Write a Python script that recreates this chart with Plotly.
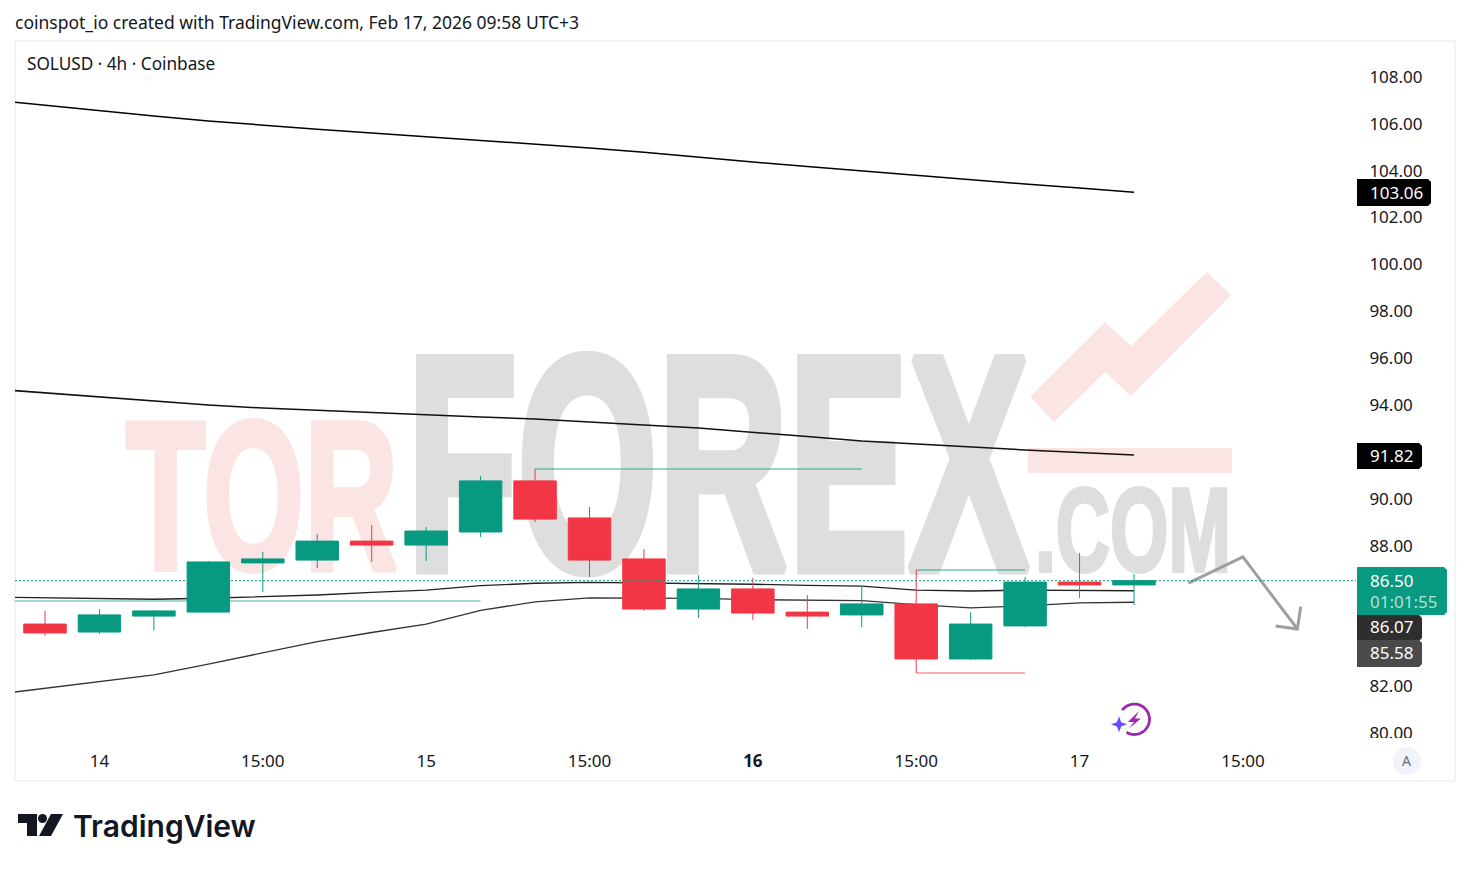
import math
import pandas as pd
import plotly.graph_objects as go

# ---------- data ----------
OPEN = [84.65, 84.31, 84.99, 85.16, 87.26, 87.38, 88.19, 88.02, 88.58, 90.76, 89.18,
        87.43, 85.29, 86.15, 85.16, 85.04, 85.51, 83.16, 84.57, 86.44, 86.32]
HIGH = [85.21, 85.29, 85.25, 87.34, 87.73, 88.49, 88.88, 88.79, 90.97, 91.27, 89.65,
        87.85, 86.74, 86.62, 85.89, 86.27, 86.96, 85.16, 86.66, 87.68, 86.79]
LOW = [84.15, 84.23, 84.37, 85.16, 86.02, 87.04, 87.30, 87.34, 88.37, 89.01, 86.66,
       85.21, 84.91, 84.82, 84.44, 84.52, 82.56, 83.12, 84.52, 85.76, 85.46]
CLOSE = [84.27, 85.04, 85.21, 87.30, 87.43, 88.19, 88.02, 88.62, 90.76, 89.13, 87.38,
         85.29, 86.15, 85.12, 84.99, 85.51, 83.16, 84.65, 86.44, 86.32, 86.50]

BAND_UPPER = [107.03, 106.79, 106.56, 106.33, 106.12, 105.93, 105.77, 105.61, 105.45, 105.31, 105.14,
              104.97, 104.79, 104.57, 104.37, 104.18, 103.99, 103.79, 103.60, 103.43, 103.26, 103.08]
BAND_MID = [94.69, 94.51, 94.33, 94.15, 94.00, 93.87, 93.77, 93.66, 93.56, 93.49, 93.40,
            93.29, 93.15, 93.02, 92.85, 92.65, 92.46, 92.33, 92.19, 92.08, 91.97, 91.86]
LINE_A = [85.80, 85.76, 85.73, 85.71, 85.75, 85.82, 85.89, 86.00, 86.10, 86.29, 86.39,
          86.43, 86.41, 86.39, 86.35, 86.30, 86.27, 86.10, 86.06, 86.10, 86.09, 86.07]
LINE_B = [81.62, 81.91, 82.19, 82.48, 82.94, 83.41, 83.90, 84.29, 84.65, 85.23, 85.60,
          85.77, 85.76, 85.75, 85.69, 85.66, 85.65, 85.48, 85.34, 85.43, 85.55, 85.58]

LEVELS = [
    (85.63, -1, 8, "rgba(8,153,129,0.38)"),
    (91.27, 9, 15, "rgba(8,153,129,0.42)"),
    (86.96, 16, 18, "rgba(8,153,129,0.42)"),
    (82.56, 16, 18, "rgba(242,54,69,0.40)"),
]

ARROW_TIMES = ["2026-02-17 11:00", "2026-02-17 15:00", "2026-02-17 19:00"]
ARROW_PRICES = [86.40, 87.52, 84.44]
ARROW_HEAD_TIMES = ["2026-02-17 17:24", "2026-02-17 19:00", "2026-02-17 19:15"]
ARROW_HEAD_PRICES = [84.57, 84.44, 85.39]

PRICE_TICKS = [80, 82, 88, 90, 92, 94, 96, 98, 100, 102, 104, 106, 108]
TIME_TICKS = ["2026-02-14 03:00", "2026-02-14 15:00", "2026-02-15 03:00", "2026-02-15 15:00",
              "2026-02-16 03:00", "2026-02-16 15:00", "2026-02-17 03:00", "2026-02-17 15:00"]
TIME_LABELS = ["14", "15:00", "15", "15:00", "<b>16</b>", "15:00", "17", "15:00"]

TIMES = pd.date_range("2026-02-13 23:00", periods=21, freq="4h")
LINE_TIMES = pd.date_range("2026-02-13 19:00", periods=22, freq="4h")

# ---------- layout constants ----------
W, H = 1470, 871
L, R, T, B = 15, 1356, 41, 738
GREEN, RED = "#089981", "#F23645"
INK = "#131722"
FONT = "Noto Sans"
PITCH = 54.45
T0 = pd.Timestamp("2026-02-13 23:00")


def px_time(px):
    return T0 + pd.Timedelta(hours=(px - 45) / PITCH * 4)


def px_price(py):
    return 80 + (733 - py) / 23.43


def fx(x):
    return (x - L) / (R - L)


def fy(y):
    return 1 - (y - T) / (B - T)


def poly(points, close=True):
    s = "M " + " L ".join(f"{fx(x):.5f} {fy(y):.5f}" for x, y in points)
    return s + (" Z" if close else "")


def paper_path(path, color, line=None, width=0, layer="above"):
    return dict(type="path", xref="paper", yref="paper", path=path, layer=layer,
                fillcolor=color, line=dict(color=line or "rgba(0,0,0,0)", width=width))


def tag_path(x0, y0, x1, y1, r=3):
    return poly([(x0, y0), (x1 - r, y0), (x1, y0 + r), (x1, y1 - r), (x1 - r, y1), (x0, y1)])


fig = go.Figure()

# watermark text (below everything)
WM_TEXT = ["TOR", "FOREX", ".COM"]
WM_X = [262, 718, 1133]
WM_Y = [516, 493, 541]
WM_SIZE = [212, 306, 119]
WM_COLOR = ["#fbe5e4", "#dedede", "#dedede"]
for t, x, y, s, c in zip(WM_TEXT, WM_X, WM_Y, WM_SIZE, WM_COLOR):
    fig.add_trace(go.Scatter(x=[px_time(x)], y=[px_price(y)], mode="text", text=[t],
                             textposition="middle center",
                             textfont=dict(family="Liberation Sans", size=s, color=c, weight=700),
                             hoverinfo="skip", showlegend=False, cliponaxis=False))

# indicator lines (under the candles)
for series, width, color in [(BAND_UPPER, 1.5, "#000000"), (BAND_MID, 1.5, "#111111"),
                             (LINE_A, 1.4, "#222222"), (LINE_B, 1.3, "#333333")]:
    fig.add_trace(go.Scatter(x=LINE_TIMES, y=series, mode="lines", line=dict(color=color, width=width),
                             hoverinfo="skip", showlegend=False))
for price, i0, i1, color in LEVELS:
    x0 = px_time(15) if i0 < 0 else TIMES[i0]
    fig.add_trace(go.Scatter(x=[x0, TIMES[i1]], y=[price, price], mode="lines",
                             line=dict(color=color, width=2), hoverinfo="skip", showlegend=False))

# candles on an overlaid subplot so they sit over the lines
fig.add_trace(go.Candlestick(
    x=TIMES, open=OPEN, high=HIGH, low=LOW, close=CLOSE, xaxis="x2", yaxis="y2",
    increasing=dict(line=dict(color=GREEN, width=1), fillcolor=GREEN),
    decreasing=dict(line=dict(color=RED, width=1), fillcolor=RED),
    whiskerwidth=0, hoverinfo="skip", showlegend=False))

# hand-drawn arrow
for xs, ys in [(ARROW_TIMES, ARROW_PRICES), (ARROW_HEAD_TIMES, ARROW_HEAD_PRICES)]:
    fig.add_trace(go.Scatter(x=xs, y=ys, mode="lines", xaxis="x2", yaxis="y2",
                             line=dict(color="#9e9e9e", width=3), hoverinfo="skip", showlegend=False))

xr = [px_time(L), px_time(R)]
yr = [px_price(B), px_price(T)]
xcommon = dict(type="date", range=xr, showgrid=False, zeroline=False, showline=False)
ycommon = dict(range=yr, showgrid=False, zeroline=False, showline=False)

shapes = [
    # frame
    dict(type="rect", xref="paper", yref="paper", x0=fx(15), x1=fx(1455), y0=fy(41), y1=fy(781),
         line=dict(color="#f0f3fa", width=2), layer="below"),
    # watermark logo
    paper_path(poly([(1030, 397), (1105, 322), (1131, 346), (1207, 272), (1231, 295),
                     (1131, 396), (1105, 372), (1054, 422)]), "#fbe5e4", layer="below"),
    paper_path(poly([(1028, 448), (1232, 448), (1232, 473), (1028, 473)]), "#fbe5e4", layer="below"),
    # last price line
    dict(type="line", xref="paper", yref="y", x0=0, x1=1, y0=CLOSE[-1], y1=CLOSE[-1], layer="above",
         line=dict(color=GREEN, width=1, dash="2px,2px")),
    # mask under the clipped 80.00 label
    dict(type="rect", xref="paper", yref="paper", x0=fx(1358), x1=fx(1453), y0=fy(738), y1=fy(779.5),
         fillcolor="#ffffff", line=dict(width=0), layer="above"),
    # price tags
    paper_path(tag_path(1357, 179, 1431, 206), "#000000"),
    paper_path(tag_path(1357, 443, 1422, 469), "#000000"),
    paper_path(tag_path(1357, 615, 1422, 641), "#2e2e2e"),
    paper_path(tag_path(1357, 640, 1422, 667), "#4a4a4a"),
    paper_path(tag_path(1357, 567, 1447, 615), GREEN),
    # auto button
    dict(type="circle", xref="paper", yref="paper", x0=fx(1393), x1=fx(1421), y0=fy(775), y1=fy(747),
         fillcolor="#f0f3fa", line=dict(width=0), layer="above"),
    # TradingView logo icon
    paper_path(poly([(18, 814), (37, 814), (37, 836), (27, 836), (27, 823), (18, 823)]), "#131722"),
    paper_path(poly([(51, 814), (63, 814), (51, 836), (39, 836)]), "#131722"),
    dict(type="circle", xref="paper", yref="paper", x0=fx(38), x1=fx(47), y0=fy(823), y1=fy(814),
         fillcolor="#131722", line=dict(width=0), layer="above"),
]

# alert/lightning badge
cx, cy, rad = 1134.3, 719.3, 15.2
arc = [(cx + rad * math.cos(math.radians(a)), cy + rad * math.sin(math.radians(a)))
       for a in range(-143, 122, 6)]
shapes.append(paper_path(poly(arc, close=False), "rgba(0,0,0,0)", line="#9c27b0", width=2.8))
shapes.append(paper_path(poly([(1139, 711), (1128, 722), (1134, 722), (1129, 728.5),
                               (1141, 718.5), (1135, 718.5)]), "#9c27b0"))
star = []
for k in range(8):
    a = math.radians(45 * k)
    rr = 8 if k % 2 == 0 else 3
    star.append((1119 + rr * math.cos(a), 724.3 + rr * math.sin(a)))
shapes.append(paper_path(poly(star), "#6a4cff"))


def note(text, x, y, size=17, color=INK, anchor="left", **kw):
    return dict(text=text, x=fx(x), y=fy(y), xref="paper", yref="paper", xanchor=anchor, yanchor="middle",
                showarrow=False, font=dict(family=FONT, size=size, color=color, **kw))


annotations = [
    note("coinspot_io created with TradingView.com, Feb 17, 2026 09:58 UTC+3", 13, 22, size=17.5),
    note("SOLUSD · 4h · Coinbase", 25, 63, size=17.2),
    note("103.06", 1368, 192, color="#ffffff"),
    note("91.82", 1368, 455, color="#ffffff"),
    note("86.50", 1368, 580, color="#ffffff"),
    note("01:01:55", 1368, 601, color="#b5e0d8"),
    note("86.07", 1368, 626.5, color="#ffffff"),
    note("85.58", 1368, 652.5, color="#ffffff"),
    note("A", 1407, 760, size=14, color="#6a6d78", anchor="center"),
    dict(text="TradingView", x=fx(71), y=fy(826), xref="paper", yref="paper", xanchor="left", yanchor="middle",
         showarrow=False, font=dict(family="Inter", size=30, color="#131722", weight=600)),
]

fig.update_layout(
    width=W, height=H, autosize=False,
    margin=dict(l=L, r=W - R, t=T, b=H - B, pad=0),
    paper_bgcolor="#ffffff", plot_bgcolor="rgba(0,0,0,0)",
    font=dict(family=FONT, size=17, color=INK),
    showlegend=False, hovermode=False, boxgap=0.22, boxgroupgap=0,
    xaxis=dict(**xcommon, tickvals=TIME_TICKS, ticktext=TIME_LABELS, ticks="outside", ticklen=8,
               tickcolor="rgba(0,0,0,0)", tickangle=0, tickfont=dict(family=FONT, size=17, color=INK)),
    yaxis=dict(**ycommon, side="right", tickvals=PRICE_TICKS, ticktext=[f"{v:.2f}" for v in PRICE_TICKS],
               ticks="outside", ticklen=9, tickcolor="rgba(0,0,0,0)",
               tickfont=dict(family=FONT, size=17, color=INK)),
    xaxis2=dict(**xcommon, overlaying="x", visible=False, rangeslider=dict(visible=False)),
    yaxis2=dict(**ycommon, overlaying="y", visible=False),
    shapes=shapes,
    annotations=annotations,
)

POST = """
document.body.style.margin = '0';
var widths = {'TOR': 272, 'FOREX': 622, '.COM': 196};
var strokes = {'TOR': 6, 'FOREX': 10, '.COM': 4};
document.querySelectorAll('.textpoint text').forEach(function (t) {
    var s = t.textContent;
    if (widths[s]) {
        t.setAttribute('textLength', widths[s]);
        t.setAttribute('lengthAdjust', 'spacingAndGlyphs');
        t.style.stroke = t.style.fill;
        t.style.strokeWidth = strokes[s] + 'px';
    }
});
"""

fig.write_html("out.html", post_script=POST, config=dict(displayModeBar=False))
